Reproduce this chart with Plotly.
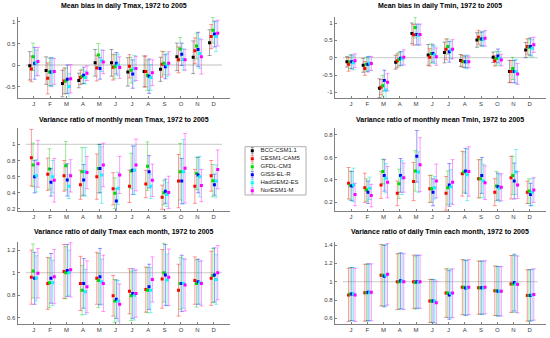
import plotly.graph_objects as go

MONTHS = [1, 2, 3, 4, 5, 6, 7, 8, 9, 10, 11, 12]
MONTH_LABELS = ["J", "F", "M", "A", "M", "J", "J", "A", "S", "O", "N", "D"]
MODELS = ["BCC-CSM1.1", "CESM1-CAM5", "GFDL-CM3", "GISS-EL-R", "HadGEM2-ES", "NorESM1-M"]
COLORS = ["#000000", "#ff0000", "#00dd00", "#0000ff", "#00ffff", "#ff00ff"]
BAR_COLORS = ["rgba(0,0,0,0.35)", "rgba(255,0,0,0.4)", "rgba(0,200,0,0.4)",
              "rgba(0,0,255,0.4)", "rgba(0,220,220,0.45)", "rgba(255,0,255,0.4)"]
OFFSETS = [-0.25, -0.15, -0.05, 0.05, 0.15, 0.25]

TITLES = [
    "Mean bias in daily Tmax, 1972 to 2005",
    "Mean bias in daily Tmin, 1972 to 2005",
    "Variance ratio of monthly mean Tmax, 1972 to 2005",
    "Variance ratio of monthly mean Tmin, 1972 to 2005",
    "Variance ratio of daily Tmax each month, 1972 to 2005",
    "Variance ratio of daily Tmin each month, 1972 to 2005",
]
REF_LEVELS = [0, 0, 1, None, 1, 1]
Y_RANGES = [[-0.767, 1.116], [-1.163, 1.173], [0.175, 1.202], [0.123, 0.862], [0.545, 1.272], [0.538, 1.433]]
Y_TICKS = [[-0.5, 0, 0.5, 1], [-1, -0.5, 0, 0.5, 1], [0.2, 0.4, 0.6, 0.8, 1],
           [0.2, 0.4, 0.6, 0.8], [0.6, 0.8, 1, 1.2], [0.6, 0.8, 1, 1.2, 1.4]]
Y_TICKTEXT = [["-0.5", "0", "0.5", "1"], ["-1", "-0.5", "0", "0.5", "1"], ["0.2", "0.4", "0.6", "0.8", "1"],
              ["0.2", "0.4", "0.6", "0.8"], ["0.6", "0.8", "1", "1.2"], ["0.6", "0.8", "1", "1.2", "1.4"]]

# Panel 1: mean bias daily Tmax (rows = models)
TMAX_BIAS_MEAN = [
    [-0.02, -0.13, -0.43, -0.36, 0.05, 0.05, -0.16, -0.15, -0.10, 0.19, 0.18, 0.52],
    [-0.09, -0.31, -0.37, -0.29, -0.07, -0.05, -0.03, -0.15, 0.02, 0.12, 0.33, 0.66],
    [0.19, -0.16, -0.37, -0.27, 0.23, -0.04, -0.12, -0.24, 0.04, 0.37, 0.44, 0.81],
    [0.04, -0.16, -0.33, -0.24, -0.08, 0.04, -0.21, -0.26, -0.04, 0.25, 0.36, 0.72],
    [0.05, -0.16, -0.50, -0.29, 0.10, 0.00, -0.08, -0.29, 0.00, 0.13, 0.27, 0.66],
    [0.08, -0.15, -0.32, -0.19, 0.07, -0.06, -0.08, -0.18, 0.04, 0.12, 0.19, 0.74],
]
TMAX_BIAS_ERR = [
    [0.33, 0.32, 0.31, 0.17, 0.31, 0.31, 0.33, 0.36, 0.28, 0.32, 0.38, 0.30],
    [0.30, 0.36, 0.30, 0.17, 0.30, 0.30, 0.27, 0.36, 0.30, 0.30, 0.30, 0.28],
    [0.32, 0.32, 0.30, 0.17, 0.27, 0.28, 0.30, 0.35, 0.27, 0.27, 0.30, 0.30],
    [0.37, 0.33, 0.33, 0.19, 0.25, 0.25, 0.33, 0.40, 0.28, 0.26, 0.40, 0.30],
    [0.30, 0.33, 0.30, 0.15, 0.25, 0.25, 0.30, 0.30, 0.27, 0.25, 0.35, 0.35],
    [0.33, 0.30, 0.33, 0.17, 0.27, 0.25, 0.28, 0.30, 0.27, 0.24, 0.40, 0.30],
]
# Panel 2: mean bias daily Tmin
TMIN_BIAS_MEAN = [
    [-0.12, -0.22, -0.88, -0.13, 0.70, 0.08, 0.15, -0.08, 0.51, 0.01, -0.40, 0.22],
    [-0.19, -0.31, -0.85, -0.09, 0.66, 0.01, 0.24, -0.10, 0.59, -0.09, -0.40, 0.32],
    [-0.12, -0.19, -0.81, -0.05, 0.87, 0.12, 0.32, -0.12, 0.54, -0.02, -0.31, 0.30],
    [-0.12, -0.19, -0.66, -0.02, 0.67, 0.12, 0.17, -0.12, 0.54, 0.05, -0.40, 0.32],
    [-0.15, -0.16, -0.93, -0.03, 0.65, 0.08, 0.22, -0.12, 0.54, -0.02, -0.40, 0.27],
    [-0.09, -0.17, -0.71, 0.01, 0.67, 0.03, 0.24, -0.12, 0.56, -0.07, -0.47, 0.37],
]
TMIN_BIAS_ERR = [
    [0.15, 0.20, 0.27, 0.20, 0.30, 0.30, 0.30, 0.17, 0.21, 0.15, 0.32, 0.22],
    [0.20, 0.20, 0.22, 0.20, 0.30, 0.25, 0.30, 0.17, 0.20, 0.15, 0.32, 0.22],
    [0.20, 0.20, 0.30, 0.20, 0.30, 0.28, 0.22, 0.17, 0.20, 0.20, 0.32, 0.25],
    [0.20, 0.22, 0.30, 0.20, 0.30, 0.25, 0.30, 0.17, 0.20, 0.20, 0.32, 0.25],
    [0.20, 0.20, 0.25, 0.20, 0.30, 0.25, 0.25, 0.20, 0.22, 0.20, 0.35, 0.25],
    [0.20, 0.20, 0.25, 0.22, 0.30, 0.25, 0.28, 0.17, 0.22, 0.17, 0.30, 0.22],
]
# Panel 3: variance ratio monthly mean Tmax (no BCC values)
TMAX_MVAR_MEAN = [
    None,
    [0.835, 0.63, 0.61, 0.50, 0.60, 0.45, 0.48, 0.51, 0.345, 0.545, 0.48, 0.61],
    [0.745, 0.695, 0.735, 0.66, 0.70, 0.395, 0.67, 0.73, 0.40, 0.66, 0.64, 0.55],
    [0.60, 0.53, 0.56, 0.56, 0.70, 0.30, 0.68, 0.66, 0.42, 0.545, 0.62, 0.50],
    [0.61, 0.60, 0.48, 0.66, 0.62, 0.455, 0.68, 0.48, 0.38, 0.66, 0.60, 0.545],
    [0.76, 0.555, 0.61, 0.65, 0.745, 0.62, 0.745, 0.555, 0.405, 0.705, 0.49, 0.69],
]
TMAX_MVAR_ERR = [
    None,
    [0.35, 0.20, 0.19, 0.18, 0.28, 0.20, 0.20, 0.17, 0.15, 0.33, 0.21, 0.19],
    [0.27, 0.25, 0.30, 0.30, 0.30, 0.19, 0.22, 0.30, 0.15, 0.35, 0.20, 0.20],
    [0.20, 0.17, 0.20, 0.19, 0.30, 0.15, 0.30, 0.20, 0.15, 0.28, 0.22, 0.13],
    [0.20, 0.20, 0.15, 0.30, 0.35, 0.20, 0.30, 0.15, 0.15, 0.40, 0.25, 0.20],
    [0.29, 0.27, 0.20, 0.20, 0.27, 0.23, 0.32, 0.20, 0.20, 0.43, 0.20, 0.24],
]
# Panel 4: variance ratio monthly mean Tmin
TMIN_MVAR_MEAN = [
    None,
    [0.37, 0.33, 0.355, 0.28, 0.385, 0.32, 0.28, 0.455, 0.41, 0.29, 0.42, 0.29],
    [0.35, 0.31, 0.475, 0.365, 0.48, 0.32, 0.33, 0.47, 0.41, 0.345, 0.44, 0.30],
    [0.345, 0.29, 0.44, 0.44, 0.61, 0.29, 0.355, 0.48, 0.44, 0.34, 0.39, 0.27],
    [0.355, 0.325, 0.415, 0.42, 0.47, 0.33, 0.34, 0.445, 0.39, 0.325, 0.47, 0.29],
    [0.27, 0.26, 0.38, 0.42, 0.535, 0.39, 0.38, 0.475, 0.375, 0.335, 0.355, 0.31],
]
TMIN_MVAR_ERR = [
    None,
    [0.14, 0.13, 0.12, 0.11, 0.17, 0.12, 0.15, 0.20, 0.17, 0.12, 0.19, 0.10],
    [0.13, 0.10, 0.11, 0.13, 0.18, 0.12, 0.15, 0.18, 0.17, 0.13, 0.17, 0.11],
    [0.13, 0.10, 0.14, 0.15, 0.23, 0.12, 0.19, 0.20, 0.16, 0.12, 0.16, 0.10],
    [0.15, 0.10, 0.13, 0.15, 0.18, 0.10, 0.15, 0.23, 0.15, 0.12, 0.20, 0.12],
    [0.10, 0.10, 0.14, 0.13, 0.24, 0.15, 0.20, 0.22, 0.15, 0.12, 0.12, 0.11],
]
# Panel 5: variance ratio daily Tmax each month
TMAX_DVAR_MEAN = [
    None,
    [0.96, 0.905, 1.01, 0.905, 0.95, 0.795, 0.835, 0.85, 0.945, 0.845, 0.93, 0.95],
    [1.015, 0.91, 1.00, 0.845, 0.93, 0.75, 0.795, 0.845, 1.00, 0.905, 0.905, 0.975],
    [0.95, 0.95, 1.02, 0.905, 0.965, 0.765, 0.815, 0.875, 0.98, 0.905, 0.92, 0.98],
    [0.95, 0.91, 1.00, 0.83, 0.92, 0.75, 0.80, 0.845, 0.935, 0.905, 0.91, 0.94],
    [0.995, 0.965, 1.025, 0.875, 0.905, 0.72, 0.815, 0.94, 0.96, 0.89, 0.905, 1.00],
]
TMAX_DVAR_ERR = [
    None,
    [0.24, 0.23, 0.24, 0.24, 0.23, 0.18, 0.20, 0.20, 0.26, 0.23, 0.21, 0.24],
    [0.24, 0.22, 0.23, 0.22, 0.24, 0.19, 0.22, 0.20, 0.26, 0.23, 0.21, 0.24],
    [0.23, 0.22, 0.23, 0.22, 0.25, 0.17, 0.22, 0.20, 0.27, 0.25, 0.20, 0.24],
    [0.20, 0.20, 0.20, 0.20, 0.20, 0.18, 0.22, 0.20, 0.23, 0.22, 0.19, 0.22],
    [0.22, 0.24, 0.24, 0.23, 0.25, 0.18, 0.21, 0.20, 0.25, 0.23, 0.20, 0.24],
]
# Panel 6: variance ratio daily Tmin each month
TMIN_DVAR_MEAN = [
    None,
    [0.855, 0.88, 1.07, 1.00, 1.00, 0.79, 0.875, 0.94, 0.935, 0.90, 0.975, 0.85],
    [0.865, 0.88, 1.07, 1.00, 0.99, 0.79, 0.875, 0.94, 0.935, 0.90, 0.975, 0.85],
    [0.865, 0.885, 1.06, 1.01, 1.00, 0.79, 0.855, 0.93, 0.935, 0.895, 0.99, 0.85],
    [0.865, 0.88, 1.07, 1.005, 0.995, 0.785, 0.87, 0.935, 0.93, 0.895, 0.975, 0.855],
    [0.855, 0.885, 1.08, 1.00, 1.00, 0.77, 0.875, 0.94, 0.94, 0.895, 0.97, 0.86],
]
TMIN_DVAR_ERR = [
    None,
    [0.29, 0.31, 0.335, 0.305, 0.29, 0.235, 0.265, 0.30, 0.29, 0.27, 0.31, 0.28],
    [0.29, 0.31, 0.335, 0.305, 0.29, 0.235, 0.265, 0.30, 0.29, 0.27, 0.31, 0.28],
    [0.29, 0.31, 0.335, 0.305, 0.29, 0.235, 0.265, 0.30, 0.29, 0.27, 0.31, 0.28],
    [0.29, 0.31, 0.335, 0.305, 0.29, 0.235, 0.265, 0.30, 0.29, 0.27, 0.31, 0.28],
    [0.29, 0.31, 0.335, 0.305, 0.29, 0.235, 0.265, 0.30, 0.29, 0.27, 0.31, 0.28],
]

PANEL_MEANS = [TMAX_BIAS_MEAN, TMIN_BIAS_MEAN, TMAX_MVAR_MEAN, TMIN_MVAR_MEAN, TMAX_DVAR_MEAN, TMIN_DVAR_MEAN]
PANEL_ERRS = [TMAX_BIAS_ERR, TMIN_BIAS_ERR, TMAX_MVAR_ERR, TMIN_MVAR_ERR, TMAX_DVAR_ERR, TMIN_DVAR_ERR]

W, H = 550, 338
FONT = "Liberation Sans, Arial, sans-serif"
AXIS_COLOR = "#808080"

COL_X = [(17.5, 230.0), (334.75, 546.0)]
ROW_Y = [(17, 98), (128, 211), (242, 324)]
TITLE_Y = [6, 120, 231.5]

fig = go.Figure()
layout = dict(
    width=W, height=H, margin=dict(l=0, r=0, t=0, b=0),
    paper_bgcolor="white", plot_bgcolor="white", showlegend=False,
    font=dict(family=FONT, size=6, color="#404040"),
)
annotations = []
shapes = []

for p in range(6):
    r, c = divmod(p, 2)
    ax = "" if p == 0 else str(p + 1)
    x0, x1 = COL_X[c]
    y0, y1 = ROW_Y[r]
    layout["xaxis" + ax] = dict(
        domain=[x0 / W, x1 / W], range=[0, 13], anchor="y" + ax,
        tickvals=MONTHS, ticktext=MONTH_LABELS, ticks="inside", ticklen=2.5,
        tickcolor=AXIS_COLOR, showline=True, linecolor=AXIS_COLOR, linewidth=1,
        showgrid=False, zeroline=False, tickfont=dict(size=6, color="#404040"),
    )
    layout["yaxis" + ax] = dict(
        domain=[1 - y1 / H, 1 - y0 / H], range=Y_RANGES[p], anchor="x" + ax,
        tickvals=Y_TICKS[p], ticktext=Y_TICKTEXT[p], ticks="inside", ticklen=2.5,
        tickcolor=AXIS_COLOR, showline=True, linecolor=AXIS_COLOR, linewidth=1,
        showgrid=False, zeroline=False, tickfont=dict(size=6, color="#404040"),
    )
    annotations.append(dict(
        x=(x0 + x1) / 2 / W, y=1 - TITLE_Y[r] / H, xref="paper", yref="paper",
        text="<b>" + TITLES[p] + "</b>", showarrow=False, xanchor="center", yanchor="middle",
        font=dict(size=7, color="#000000", family=FONT),
    ))
    if REF_LEVELS[p] is not None:
        shapes.append(dict(
            type="line", xref="x" + ax, yref="y" + ax, x0=0.5, x1=12.5,
            y0=REF_LEVELS[p], y1=REF_LEVELS[p], line=dict(color="#d4d4d4", width=1.3), layer="below",
        ))
    for m in range(6):
        means = PANEL_MEANS[p][m]
        if means is None:
            continue
        errs = PANEL_ERRS[p][m]
        fig.add_trace(go.Scatter(
            x=[mo + OFFSETS[m] for mo in MONTHS], y=means, mode="markers",
            xaxis="x" + ax, yaxis="y" + ax, name=MODELS[m], cliponaxis=True,
            marker=dict(symbol="square", size=3, color=COLORS[m], line=dict(width=0)),
            error_y=dict(type="data", array=errs, visible=True, color=BAR_COLORS[m],
                         thickness=1, width=2),
        ))

# Legend (drawn in its own small axes so entries can be tightly packed)
LX0, LX1, LY0, LY1 = 245, 306, 146.7, 195
layout["xaxis7"] = dict(domain=[LX0 / W, LX1 / W], range=[0, LX1 - LX0], anchor="y7",
                        visible=False, fixedrange=True)
layout["yaxis7"] = dict(domain=[1 - LY1 / H, 1 - LY0 / H], range=[(LY1 - 150.7) / 8, (LY0 - 150.7) / 8],
                        anchor="x7", visible=False, fixedrange=True)
shapes.append(dict(type="rect", xref="paper", yref="paper", x0=LX0 / W, x1=LX1 / W,
                   y0=1 - LY1 / H, y1=1 - LY0 / H, line=dict(color="#9a9a9a", width=0.8),
                   fillcolor="white", layer="below"))
for m in range(6):
    fig.add_trace(go.Scatter(
        x=[7.3], y=[m], mode="markers", xaxis="x7", yaxis="y7", name=MODELS[m],
        marker=dict(symbol="square", size=3, color=COLORS[m], line=dict(width=0)),
        error_y=dict(type="data", array=[0.4], visible=True, color=BAR_COLORS[m], thickness=1, width=1.5),
        hoverinfo="skip",
    ))
fig.add_trace(go.Scatter(
    x=[15.5] * 6, y=list(range(6)), mode="text", text=MODELS, textposition="middle right",
    xaxis="x7", yaxis="y7", textfont=dict(size=6, color="#202020", family=FONT), hoverinfo="skip",
))

layout["annotations"] = annotations
layout["shapes"] = shapes
fig.update_layout(**layout)
fig.write_html(
    "out.html",
    config={"displayModeBar": False},
    post_script="document.body.style.margin='0';document.body.style.overflow='hidden';",
)
